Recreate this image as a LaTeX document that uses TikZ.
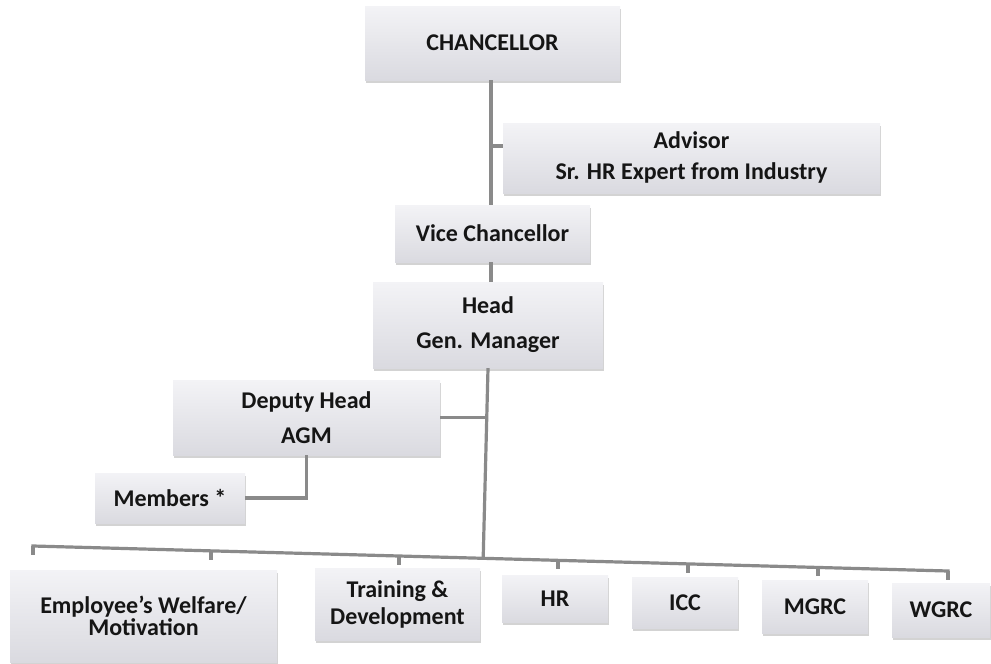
\documentclass[tikz,border=0pt]{standalone}
\usepackage{fontspec}
\setmainfont{Carlito}
\usetikzlibrary{calc,shadows}
\definecolor{boxtop}{HTML}{F3F3F6}
\definecolor{boxbot}{HTML}{DADAE0}
\definecolor{linegray}{HTML}{8A8A8A}
\definecolor{txt}{HTML}{151515}
\tikzset{
  orgbox/.style={rectangle, top color=boxtop, bottom color=boxbot, draw=none,
    inner sep=0pt, align=center, text=txt,
    font=\bfseries\fontsize{24}{31}\selectfont,
    drop shadow={shadow xshift=1pt, shadow yshift=-2.5pt, opacity=0.35, fill=gray}},
  conn/.style={draw=linegray, line width=3.2pt},
  tapline/.style={draw=linegray, line width=3.2pt}
}
\begin{document}
\begin{tikzpicture}[x=1pt,y=-1pt]
\useasboundingbox (0,0) rectangle (991,664);
% top chain
\node[orgbox, minimum width=255, minimum height=74] (chan) at (492.5,43) {CHANCELLOR};
\node[orgbox, minimum width=377, minimum height=70] (adv) at (691.5,158) {\raisebox{4pt}{Advisor}\\\raisebox{4pt}{Sr. HR Expert from Industry}};
\node[orgbox, minimum width=195, minimum height=57] (vc) at (492.5,233.5) {Vice Chancellor};
\node[orgbox, minimum width=230, minimum height=86, font=\bfseries\fontsize{24}{35}\selectfont] (head) at (488,325) {Head\\Gen. Manager};
\node[orgbox, minimum width=267, minimum height=75, font=\bfseries\fontsize{24}{35}\selectfont] (dep) at (306.5,417.5) {Deputy Head\\AGM};
\node[orgbox, minimum width=150, minimum height=50] (mem) at (170,498) {Members *};
% bottom row
\node[orgbox, minimum width=267, minimum height=92, font=\bfseries\fontsize{24}{22}\selectfont] (emp) at (143.5,616) {Employee’s Welfare/\\Motivation};
\node[orgbox, minimum width=165, minimum height=72, font=\bfseries\fontsize{24}{27}\selectfont] (trn) at (397.5,604) {Training \&\\Development};
\node[orgbox, minimum width=106, minimum height=47] (hr) at (555,598.5) {HR};
\node[orgbox, minimum width=106, minimum height=51] (icc) at (685,602.5) {ICC};
\node[orgbox, minimum width=106, minimum height=53] (mgrc) at (815,606.5) {MGRC};
\node[orgbox, minimum width=98, minimum height=54] (wgrc) at (941,610) {WGRC};
% connectors top
\coordinate (ay) at (0,146);
\draw[conn] ([xshift=-1.5pt]chan.south) -- ([xshift=-1.5pt]vc.north);
\coordinate (advtap) at ([xshift=-1.5pt]chan.south |- ay);
\draw[conn] (advtap) -- (advtap -| adv.west);
\draw[conn] ([xshift=-1.5pt]vc.south) -- ([xshift=-1.5pt]vc.south |- head.north);
% bus
\coordinate (bl) at (33,546);
\coordinate (br) at (948,571);
\coordinate (j) at ($(bl)!0.492!(br)$);
\draw[conn] (head.south) -- (j);
\draw[conn] (dep.east) -- (dep.east -| head.south);
\draw[conn] (dep.south) |- (mem.east);
\draw[conn, line cap=rect] (bl) -- (br);
% taps
\foreach \f/\nm in {0/t0, 0.1945/t1, 0.4/t2, 0.5738/t3, 0.7158/t4, 0.8579/t5, 1/t6}{
  \coordinate (\nm) at ($(bl)!\f!(br)$);
  \draw[tapline] (\nm) -- ++(0,9);
}
\end{tikzpicture}
\end{document}
